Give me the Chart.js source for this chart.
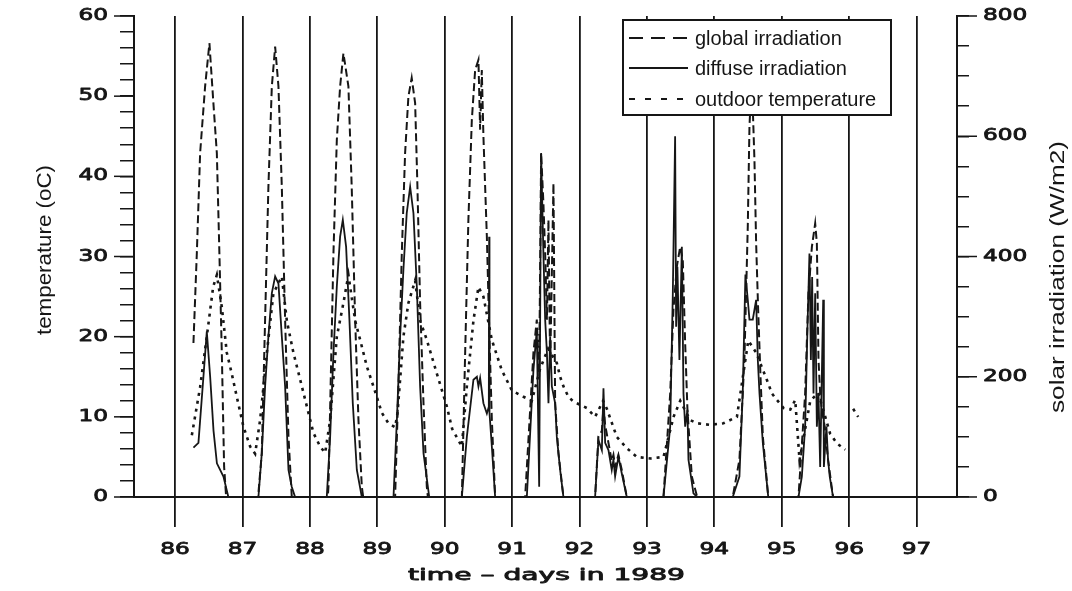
<!DOCTYPE html>
<html>
<head>
<meta charset="utf-8">
<script src="https://cdn.jsdelivr.net/npm/chart.js@4.4.0/dist/chart.umd.min.js"></script>
<style>
  html, body { margin: 0; padding: 0; background: #fff; }
  canvas { display: block; }
</style>
</head>
<body>
<canvas id="chart" width="1072" height="591"></canvas>
<script>
// tick labels
const dayTicks = [86, 87, 88, 89, 90, 91, 92, 93, 94, 95, 96, 97];
const tempTicks = [0, 10, 20, 30, 40, 50, 60];
const irrTicks = [0, 200, 400, 600, 800];

// [day of 1989, W/m2]
const globalIrr = [
  [86.272, 256], [86.322, 405], [86.371, 572], [86.445, 683], [86.509, 755], [86.568, 655], [86.619, 572], [86.657, 405], [86.693, 239], [86.727, 50], [86.757, 0],
  [87.231, 0], [87.286, 73], [87.335, 295], [87.384, 516], [87.435, 683], [87.484, 749], [87.533, 683], [87.583, 516], [87.632, 295], [87.682, 100], [87.731, 0],
  [88.265, 0], [88.275, 17], [88.349, 405], [88.399, 594], [88.448, 683], [88.497, 738], [88.571, 683], [88.620, 516], [88.671, 295], [88.720, 128], [88.770, 17], [88.790, 0],
  [89.264, 0], [89.313, 184], [89.363, 405], [89.412, 572], [89.461, 666], [89.510, 697], [89.561, 655], [89.595, 516], [89.635, 322], [89.685, 156], [89.734, 17], [89.750, 0],
  [90.254, 0], [90.303, 240], [90.351, 461], [90.402, 627], [90.451, 710], [90.500, 727], [90.525, 611], [90.550, 710], [90.574, 600], [90.625, 433], [90.663, 267], [90.699, 128], [90.748, 0],
  [91.193, 0], [91.316, 240], [91.366, 295], [91.401, 200], [91.430, 572], [91.464, 489], [91.490, 405], [91.516, 295], [91.539, 461], [91.564, 214], [91.613, 522], [91.638, 156], [91.687, 73], [91.761, 0],
  [92.231, 0], [92.280, 100], [92.331, 110], [92.355, 150], [92.380, 120], [92.429, 90], [92.478, 60], [92.503, 70], [92.528, 50], [92.577, 70], [92.627, 45], [92.701, 0],
  [93.245, 0], [93.345, 172], [93.393, 311], [93.443, 383], [93.493, 416], [93.532, 394], [93.567, 256], [93.601, 145], [93.666, 34], [93.745, 0],
  [94.273, 0], [94.372, 62], [94.446, 228], [94.496, 450], [94.521, 616], [94.555, 700], [94.595, 560], [94.620, 422], [94.650, 311], [94.685, 200], [94.720, 100], [94.800, 0],
  [95.248, 0], [95.347, 172], [95.396, 339], [95.447, 416], [95.496, 455], [95.521, 422], [95.545, 228], [95.570, 172], [95.594, 145], [95.638, 117], [95.687, 62], [95.761, 0]
];

const diffuseIrr = [
  [86.272, 82], [86.346, 90], [86.420, 200], [86.470, 275], [86.520, 200], [86.570, 110], [86.620, 56], [86.717, 34], [86.790, 0],
  [87.236, 0], [87.286, 73], [87.335, 184], [87.384, 267], [87.435, 339], [87.484, 367], [87.533, 355], [87.583, 267], [87.632, 184], [87.682, 45], [87.730, 17], [87.780, 0],
  [88.250, 0], [88.300, 100], [88.349, 239], [88.399, 350], [88.448, 433], [88.488, 461], [88.537, 416], [88.586, 295], [88.636, 156], [88.696, 45], [88.770, 0],
  [89.240, 0], [89.290, 128], [89.338, 267], [89.387, 378], [89.436, 472], [89.487, 516], [89.536, 472], [89.586, 350], [89.635, 184], [89.685, 73], [89.770, 0],
  [90.254, 0], [90.328, 100], [90.426, 195], [90.477, 200], [90.500, 184], [90.525, 198], [90.574, 156], [90.625, 139], [90.654, 150], [90.659, 433], [90.664, 140], [90.699, 84], [90.748, 0],
  [91.218, 0], [91.316, 211], [91.366, 278], [91.401, 17], [91.430, 572], [91.464, 405], [91.490, 295], [91.516, 240], [91.539, 156], [91.564, 267], [91.589, 184], [91.638, 156], [91.663, 100], [91.712, 45], [91.761, 0],
  [92.231, 0], [92.280, 95], [92.331, 78], [92.355, 181], [92.380, 90], [92.429, 78], [92.478, 45], [92.503, 62], [92.528, 34], [92.577, 67], [92.627, 39], [92.701, 0],
  [93.245, 0], [93.345, 117], [93.384, 339], [93.418, 600], [93.433, 283], [93.452, 383], [93.482, 228], [93.518, 416], [93.542, 172], [93.567, 117], [93.601, 145], [93.616, 62], [93.690, 6], [93.745, 0],
  [94.273, 0], [94.372, 34], [94.421, 172], [94.461, 370], [94.496, 328], [94.521, 295], [94.570, 295], [94.620, 328], [94.645, 228], [94.670, 172], [94.720, 89], [94.800, 0],
  [95.248, 0], [95.298, 34], [95.347, 117], [95.382, 283], [95.411, 405], [95.432, 228], [95.451, 366], [95.471, 172], [95.496, 339], [95.521, 117], [95.545, 172], [95.570, 50], [95.615, 328], [95.625, 50], [95.663, 117], [95.687, 62], [95.712, 34], [95.761, 0]
];

// [day of 1989, deg C]
const outdoorTemp = [
  [86.248, 7.7], [86.371, 13.7], [86.470, 20], [86.564, 26.2], [86.619, 27.7], [86.693, 23.7], [86.767, 18], [86.840, 15.4], [86.915, 12.5], [87.013, 8.8], [87.113, 6.3], [87.187, 5.4],
  [87.261, 9.6], [87.361, 18], [87.458, 25.4], [87.583, 27.5], [87.657, 22], [87.755, 18], [87.904, 13], [88.052, 8], [88.151, 6.3], [88.226, 5.5],
  [88.300, 9.6], [88.399, 20], [88.497, 24.2], [88.571, 27.7], [88.671, 22], [88.745, 19.6], [88.844, 16.3], [88.942, 13.8], [89.067, 10.5], [89.165, 9.2], [89.264, 8.7],
  [89.300, 10.5], [89.387, 20], [89.461, 24.2], [89.561, 27], [89.635, 22], [89.734, 19.6], [89.883, 15.4], [90.031, 11.3], [90.110, 8.5], [90.254, 6.3],
  [90.328, 13.8], [90.426, 22], [90.500, 26.2], [90.574, 25], [90.699, 19.6], [90.847, 15.8], [90.996, 13.3], [91.168, 12.5], [91.292, 12],
  [91.415, 16], [91.534, 18.5], [91.663, 16.7], [91.712, 15], [91.761, 13.8], [91.835, 12.5], [91.910, 11.9], [92.009, 11.5], [92.108, 11.1], [92.231, 10],
  [92.350, 12], [92.405, 11], [92.553, 7.5], [92.701, 6.1], [92.850, 5], [93.048, 4.8], [93.246, 5],
  [93.395, 10], [93.494, 12], [93.642, 9.6], [93.742, 9.2], [93.939, 9], [94.136, 9.2], [94.335, 10],
  [94.503, 19.5], [94.622, 18], [94.681, 16.7], [94.780, 14.6], [94.855, 12.9], [94.929, 12.1], [95.027, 11.1], [95.127, 10.9], [95.200, 12.1], [95.264, 4.6],
  [95.423, 12], [95.542, 13], [95.718, 7.9], [95.818, 6.7], [95.941, 5.9],
  [96.000, null], [96.059, 11], [96.134, 10]
];

const ink = '#161616';

function toPoints(pairs) {
  return pairs.map(p => ({ x: p[0], y: p[1] }));
}

function line(ctx, x1, y1, x2, y2) {
  ctx.beginPath();
  ctx.moveTo(x1, y1);
  ctx.lineTo(x2, y2);
  ctx.stroke();
}

// the original plot uses a heavy extended typeface: stretch sideways and thicken a little
function wideText(ctx, text, x, y, align, sx) {
  ctx.save();
  ctx.translate(x, y);
  ctx.scale(sx, 1);
  ctx.textAlign = align;
  ctx.textBaseline = 'middle';
  ctx.lineWidth = 0.8;
  ctx.lineJoin = 'round';
  ctx.fillText(text, 0, 0);
  ctx.strokeText(text, 0, 0);
  ctx.restore();
}

// vertical title, stretched along its length to the given span
function rotatedText(ctx, text, x, y, span) {
  const k = span / ctx.measureText(text).width;
  ctx.save();
  ctx.translate(x, y);
  ctx.rotate(-Math.PI / 2);
  ctx.scale(k, 1);
  ctx.textAlign = 'center';
  ctx.textBaseline = 'middle';
  ctx.fillText(text, 0, 0);
  ctx.restore();
}

const decorations = {
  id: 'decorations',
  afterDatasetsDraw(chart) {
    // legend box sits on top of the curves
    const ctx = chart.ctx;
    ctx.save();
    ctx.fillStyle = '#fff';
    ctx.fillRect(623, 20, 268, 95);
    ctx.strokeStyle = ink;
    ctx.lineWidth = 2;
    ctx.strokeRect(623, 20, 268, 95);
    const rows = [38, 68, 99];
    const dashes = [[14, 8], [], [6, 10]];
    chart.data.datasets.forEach((ds, i) => {
      ctx.setLineDash(dashes[i]);
      ctx.lineWidth = 2;
      line(ctx, 629, rows[i], 688, rows[i]);
      ctx.setLineDash([]);
      ctx.fillStyle = ink;
      ctx.font = '20px "Liberation Sans"';
      ctx.textAlign = 'left';
      ctx.textBaseline = 'middle';
      ctx.fillText(ds.label, 695, rows[i] + 1);
    });
    ctx.restore();
  },
  afterDraw(chart) {
    const ctx = chart.ctx;
    const { x, y, y2 } = chart.scales;
    ctx.save();
    ctx.strokeStyle = ink;
    ctx.fillStyle = ink;
    ctx.lineWidth = 1.5;

    // major ticks are longer than the minor ones
    tempTicks.forEach(v => {
      const py = y.getPixelForValue(v);
      line(ctx, y.right - 20, py, y.right, py);
    });
    irrTicks.forEach(v => {
      const py = y2.getPixelForValue(v);
      line(ctx, y2.left, py, y2.left + 20, py);
    });

    ctx.font = '16px "DejaVu Sans"';
    tempTicks.forEach(v => wideText(ctx, String(v), y.right - 26, y.getPixelForValue(v), 'right', 1.45));
    irrTicks.forEach(v => wideText(ctx, String(v), y2.left + 26, y2.getPixelForValue(v), 'left', 1.45));
    dayTicks.forEach(v => wideText(ctx, String(v), x.getPixelForValue(v), x.top + 53, 'center', 1.45));

    ctx.font = '15px "DejaVu Sans"';
    const xTitle = 'time \u2013 days in 1989';
    const w = ctx.measureText(xTitle).width;
    wideText(ctx, xTitle, (x.left + x.right) / 2 + 1, x.top + 79, 'center', 277 / w);

    ctx.font = '21px "Liberation Sans"';
    rotatedText(ctx, 'temperature (oC)', 45, 250, 170);
    rotatedText(ctx, 'solar irradiation (W/m2)', 1058, 277, 272);
    ctx.restore();
  }
};

const axisLine = { display: true, color: ink, width: 2 };

new Chart(document.getElementById('chart'), {
  type: 'line',
  data: {
    datasets: [
      {
        label: 'global irradiation',
        data: toPoints(globalIrr),
        yAxisID: 'y2',
        borderColor: ink,
        borderWidth: 2,
        borderDash: [8, 4],
        pointRadius: 0,
        tension: 0
      },
      {
        label: 'diffuse irradiation',
        data: toPoints(diffuseIrr),
        yAxisID: 'y2',
        borderColor: ink,
        borderWidth: 1.8,
        pointRadius: 0,
        tension: 0
      },
      {
        label: 'outdoor temperature',
        data: toPoints(outdoorTemp),
        yAxisID: 'y',
        borderColor: ink,
        borderWidth: 2.6,
        borderDash: [3, 5],
        pointRadius: 0,
        tension: 0,
        spanGaps: false
      }
    ]
  },
  options: {
    responsive: false,
    animation: false,
    events: [],
    layout: { padding: { top: 16, left: 0, right: 0, bottom: 0 } },
    plugins: {
      legend: { display: false },
      tooltip: { enabled: false }
    },
    scales: {
      x: {
        type: 'linear',
        min: 85.39,
        max: 97.6,
        ticks: { stepSize: 1, includeBounds: false, autoSkip: false, padding: 0, font: { size: 8 }, callback: () => '' },
        grid: { color: ink, lineWidth: 1.8, tickLength: 30, drawOnChartArea: true },
        border: axisLine,
        afterFit: s => { s.height = 94; }
      },
      y: {
        position: 'left',
        min: 0,
        max: 60,
        ticks: { stepSize: 2, autoSkip: false, padding: 0, font: { size: 8 }, callback: () => '' },
        grid: { color: ink, lineWidth: 1.5, tickLength: 14, drawOnChartArea: false },
        border: axisLine,
        afterFit: s => { s.width = 134; }
      },
      y2: {
        position: 'right',
        min: 0,
        max: 800,
        ticks: { stepSize: 50, autoSkip: false, padding: 0, font: { size: 8 }, callback: () => '' },
        grid: { color: ink, lineWidth: 1.5, tickLength: 12, drawOnChartArea: false },
        border: axisLine,
        afterFit: s => { s.width = 115; }
      }
    }
  },
  plugins: [decorations]
});
</script>
</body>
</html>
